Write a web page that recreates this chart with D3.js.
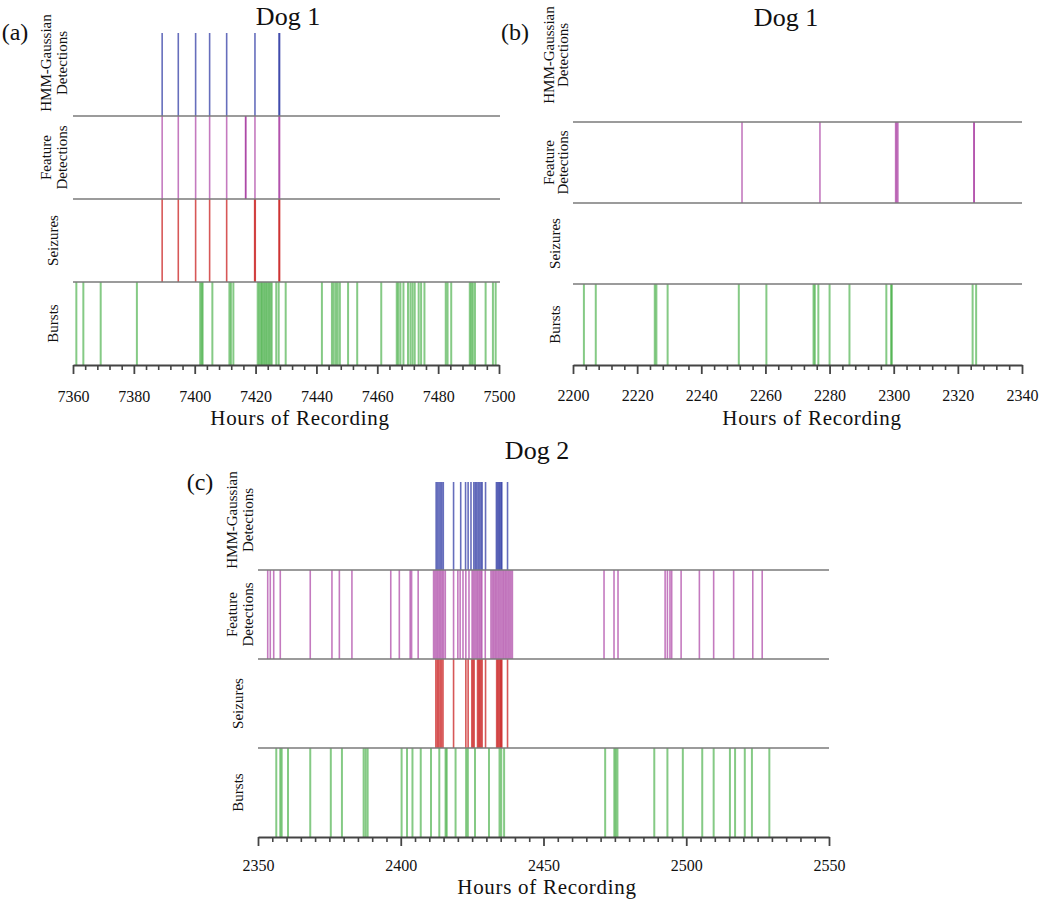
<!DOCTYPE html>
<html>
<head>
<meta charset="utf-8">
<script src="https://cdn.jsdelivr.net/npm/d3@7/dist/d3.min.js"></script>
<style>
  html, body { margin: 0; padding: 0; background: #fff; }
  svg { display: block; }
  text { font-family: "Liberation Serif", "DejaVu Serif", serif; fill: #111; }
</style>
</head>
<body>
<svg id="chart" width="1050" height="902"></svg>
<script>
// ---------------- DATA ----------------
const trackNames = [["HMM-Gaussian", "Detections"], ["Feature", "Detections"], ["Seizures"], ["Bursts"]];
const panelTitles = ["Dog 1", "Dog 1", "Dog 2"];
const panelLetters = ["(a)", "(b)", "(c)"];
const axisTitle = "Hours of Recording";

// Panel (a): Dog 1, hours 7360-7500
const ticksA = [7360, 7380, 7400, 7420, 7440, 7460, 7480, 7500];
const hmmA = [7389.3, 7394.6, 7400.3, 7404.9, 7410.5, 7419.8, 7427.7, 7427.9];
const featureA = [7389.3, 7394.6, 7400.3, 7404.9, 7410.5, 7416.7, 7416.8, 7419.8, 7427.7, 7427.9];
const seizuresA = [7389.3, 7394.6, 7400.3, 7404.9, 7410.5, 7419.7, 7419.9, 7427.7, 7427.9];
const burstsA = [7361.1, 7363.4, 7369.1, 7381.0, 7401.8, 7402.3, 7402.6, 7405.8,
  7411.4, 7411.9, 7412.7, 7420.7, 7421.2, 7421.7, 7422.1, 7422.6, 7423.0, 7423.5,
  7423.9, 7424.4, 7424.9, 7425.3, 7426.8, 7427.6, 7429.9, 7441.8, 7445.1, 7445.7,
  7446.4, 7447.0, 7447.7, 7450.4, 7453.4, 7461.3, 7466.4, 7466.9, 7467.6, 7468.6,
  7470.1, 7470.9, 7471.6, 7472.3, 7473.6, 7474.4, 7475.5, 7482.5, 7483.1, 7484.3,
  7490.4, 7490.9, 7491.4, 7492.1, 7495.6, 7498.0, 7498.9];

// Panel (b): Dog 1, hours 2200-2340
const ticksB = [2200, 2220, 2240, 2260, 2280, 2300, 2320, 2340];
const hmmB = [];
const featureB = [2252.7, 2277.0, 2300.6, 2300.9, 2301.3, 2325.0, 2325.1];
const seizuresB = [];
const burstsB = [2203.4, 2207.1, 2225.5, 2226.0, 2229.5, 2251.7, 2260.3, 2275.0,
  2275.4, 2276.5, 2280.0, 2286.2, 2297.7, 2299.2, 2299.4, 2324.6, 2325.7];

// Panel (c): Dog 2, hours 2350-2550
const ticksC = [2350, 2400, 2450, 2500, 2550];
const hmmC = [2412.4, 2412.9, 2413.4, 2413.9, 2414.4, 2414.9, 2418.5, 2421.0,
  2422.7, 2423.6, 2424.6, 2425.6, 2426.1, 2426.6, 2427.1, 2427.6, 2428.1, 2428.5,
  2429.7, 2433.5, 2433.9, 2434.3, 2434.7, 2435.1, 2435.4, 2437.4];
const featureC = [2353.4, 2354.3, 2355.5, 2357.8, 2368.3, 2375.9, 2378.5, 2382.9,
  2396.5, 2399.5, 2403.3, 2403.8, 2406.1, 2411.5, 2412.0, 2412.5, 2413.0, 2413.5,
  2414.0, 2414.5, 2415.0, 2415.6, 2418.5, 2420.0, 2420.8, 2421.8, 2422.8, 2423.9,
  2425.0, 2425.5, 2426.0, 2426.5, 2427.0, 2427.5, 2428.0, 2428.4, 2429.6, 2431.6,
  2432.1, 2432.6, 2433.1, 2433.6, 2434.1, 2434.6, 2435.1, 2435.6, 2436.1, 2436.6,
  2437.1, 2437.6, 2438.1, 2438.6, 2439.1, 2471.2, 2474.7, 2476.1, 2492.6, 2493.4,
  2494.3, 2494.9, 2498.2, 2504.6, 2509.6, 2516.6, 2523.3, 2526.6];
const seizuresC = [2412.3, 2412.8, 2413.3, 2413.8, 2414.3, 2414.8, 2418.5, 2422.8,
  2423.6, 2424.9, 2425.3, 2425.7, 2426.9, 2427.3, 2427.7, 2428.1, 2428.5, 2429.7,
  2433.6, 2434.0, 2434.4, 2434.8, 2435.1, 2435.4, 2437.4];
const burstsC = [2356.4, 2357.8, 2358.3, 2360.5, 2368.3, 2375.5, 2379.4, 2387.0,
  2387.7, 2388.4, 2400.3, 2402.2, 2404.1, 2407.0, 2410.6, 2413.5, 2415.7, 2416.1,
  2419.2, 2422.9, 2423.5, 2426.0, 2430.9, 2434.6, 2435.2, 2436.2, 2471.6, 2474.8,
  2475.3, 2475.9, 2488.8, 2493.4, 2498.8, 2505.6, 2509.6, 2515.3, 2517.1, 2520.5,
  2523.0, 2529.1];

// ---------------- LAYOUT / STYLE ----------------
const seriesStyle = [
  { color: "#2530a0", width: 1.6, opacity: 0.7 },    // HMM
  { color: "#a02898", width: 1.6, opacity: 0.62 },   // Feature
  { color: "#c81818", width: 1.6, opacity: 0.72 },   // Seizures
  { color: "#3aaa3a", width: 2.0, opacity: 0.62 }    // Bursts
];

const layout = [
  { domain: [7360, 7500], range: [73, 499], ys: [33, 116, 199, 282, 365], lineEnd: 500,
    ticks: ticksA, minor: 4, labelX: [[46, 62], [46, 62], [53], [53]], hmmLabelY: 63,
    titleX: 288, titleY: 25, letterX: 15, letterY: 40, tickLabelY: 402, axisTitleY: 425, axisTitleX: 300,
    series: [hmmA, featureA, seizuresA, burstsA] },
  { domain: [2200, 2340], range: [573, 1022], ys: [41, 122, 203, 284, 365], lineEnd: 1022,
    ticks: ticksB, minor: 4, labelX: [[549, 563], [549, 563], [555], [555]], hmmLabelY: 55,
    titleX: 786, titleY: 26, letterX: 515, letterY: 40, tickLabelY: 401, axisTitleY: 425, axisTitleX: 812,
    series: [hmmB, featureB, seizuresB, burstsB] },
  { domain: [2350, 2550], range: [258, 829], ys: [482, 570, 659, 748, 837], lineEnd: 829,
    ticks: ticksC, minor: 5, labelX: [[232, 248], [232, 248], [238], [238]], hmmLabelY: 520,
    titleX: 537, titleY: 459, letterX: 200, letterY: 490, tickLabelY: 871, axisTitleY: 894, axisTitleX: 547,
    series: [hmmC, featureC, seizuresC, burstsC] }
];

const svg = d3.select("#chart");

layout.forEach((p, pi) => {
  const g = svg.append("g");
  const x = d3.scaleLinear().domain(p.domain).range(p.range);

  // vertical event lines for each track
  p.series.forEach((vals, si) => {
    const st = seriesStyle[si];
    g.append("g").selectAll("line").data(vals).join("line")
      .attr("x1", d => x(d)).attr("x2", d => x(d))
      .attr("y1", p.ys[si]).attr("y2", p.ys[si + 1])
      .attr("stroke", st.color)
      .attr("stroke-width", st.width)
      .attr("stroke-opacity", st.opacity);
  });

  // horizontal separators (below HMM, Feature, Seizure tracks)
  [1, 2, 3].forEach(k => {
    g.append("line")
      .attr("x1", p.range[0]).attr("x2", p.lineEnd)
      .attr("y1", p.ys[k]).attr("y2", p.ys[k])
      .attr("stroke", "#7a7a7a").attr("stroke-width", 1.6);
  });

  // axis: minor ticks
  const step = p.minor;
  const minorVals = d3.range(p.domain[0], p.domain[1] + 0.001, step)
    .filter(v => p.ticks.indexOf(v) < 0);
  const minorAxis = d3.axisBottom(x).tickValues(minorVals).tickSize(5).tickSizeOuter(0).tickFormat("");
  const ga = g.append("g").attr("transform", `translate(0,${p.ys[4]})`).call(minorAxis);
  ga.select(".domain").attr("stroke", "#444").attr("stroke-width", 2.2);
  ga.selectAll(".tick line").attr("stroke", "#444").attr("stroke-width", 1.6);

  const majorAxis = d3.axisBottom(x).tickValues(p.ticks).tickSize(9).tickSizeOuter(0)
    .tickFormat(d3.format("d"));
  const gm = g.append("g").attr("transform", `translate(0,${p.ys[4]})`).call(majorAxis);
  gm.select(".domain").remove();
  gm.selectAll(".tick line").attr("stroke", "#444").attr("stroke-width", 1.8);
  gm.selectAll(".tick text")
    .attr("font-family", "\"Liberation Serif\", serif")
    .attr("font-size", 16).attr("fill", "#333")
    .attr("dy", null).attr("y", p.tickLabelY - p.ys[4]);

  // axis title
  g.append("text").attr("x", p.axisTitleX).attr("y", p.axisTitleY)
    .attr("text-anchor", "middle").attr("font-size", 21).attr("letter-spacing", 0.7)
    .attr("fill", "#222").text(axisTitle);

  // panel title and letter
  g.append("text").attr("x", p.titleX).attr("y", p.titleY)
    .attr("text-anchor", "middle").attr("font-size", 26).text(panelTitles[pi]);
  g.append("text").attr("x", p.letterX).attr("y", p.letterY)
    .attr("text-anchor", "middle").attr("font-size", 24).text(panelLetters[pi]);

  // track labels (rotated)
  trackNames.forEach((lines, ti) => {
    const cy = ti === 0 ? p.hmmLabelY : (p.ys[ti] + p.ys[ti + 1]) / 2;
    lines.forEach((ln, li) => {
      g.append("text")
        .attr("transform", `translate(${p.labelX[ti][li]},${cy}) rotate(-90)`)
        .attr("text-anchor", "middle").attr("dy", "0.35em")
        .attr("font-size", 15).attr("fill", "#222").text(ln);
    });
  });
});
</script>
</body>
</html>
